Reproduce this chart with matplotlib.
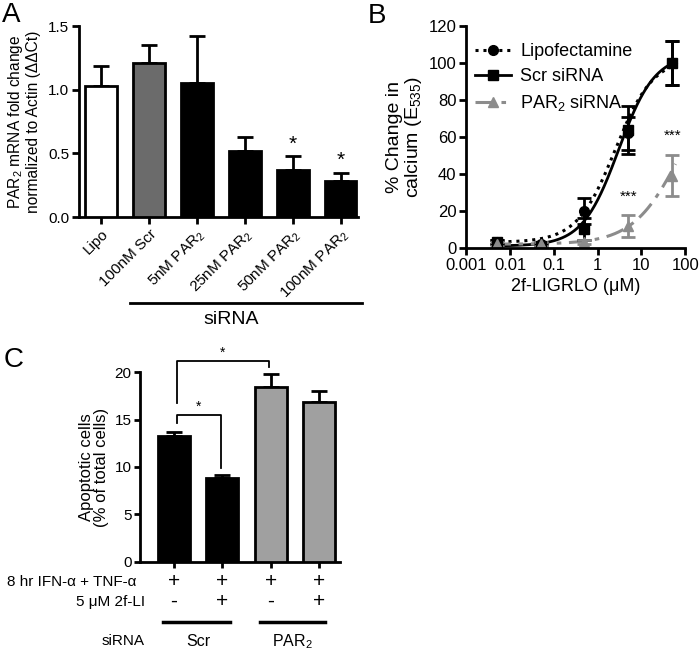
import matplotlib
matplotlib.use('Agg')
import matplotlib.pyplot as plt
import numpy as np

plt.rcParams['font.family'] = ['Liberation Sans', 'DejaVu Sans']
plt.rcParams['mathtext.fontset'] = 'custom'
plt.rcParams['mathtext.rm'] = 'Liberation Sans'
plt.rcParams['mathtext.it'] = 'Liberation Sans:italic'
plt.rcParams['axes.linewidth'] = 2

# panel A data
a_labels = ['Lipo', '100nM Scr', '5nM PAR$_2$', '25nM PAR$_2$', '50nM PAR$_2$', '100nM PAR$_2$']
a_vals = [1.03, 1.21, 1.05, 0.52, 0.37, 0.28]
a_err = [0.16, 0.14, 0.37, 0.11, 0.11, 0.07]
a_cols = ['white', '#6b6b6b', 'black', 'black', 'black', 'black']
a_star = [False, False, False, False, True, True]

# panel B data
b_x = [0.005, 0.05, 0.5, 5, 50]
lipo_y = [3, 2, 20, 62, 100]
lipo_e = [1, 1, 7, 9, 12]
scr_y = [3, 1, 10, 64, 100]
scr_e = [1, 1, 6, 13, 12]
par_y = [2, 2, 3, 12, 39]
par_e = [1, 1, 1, 6, 11]
# fitted curve params: bottom, top, ec50, hill
lipo_fit = [3, 103, 2.5, 1.0]
scr_fit = [1, 105, 3.0, 1.05]
par_fit = [2, 100, 80, 0.8]

# panel C data
c_vals = [13.3, 8.8, 18.4, 16.9]
c_err = [0.35, 0.3, 1.4, 1.1]
c_cols = ['black', 'black', '#a0a0a0', '#a0a0a0']
c_row1 = ['+', '+', '+', '+']
c_row2 = ['-', '+', '-', '+']

fig = plt.figure(figsize=(7, 6.54), dpi=100)

def style(ax):
    ax.spines['top'].set_visible(False)
    ax.spines['right'].set_visible(False)
    ax.tick_params(width=2, length=5, pad=2, labelsize=11)

# ---- A
axA = fig.add_axes([0.113, 0.668, 0.399, 0.292])
xa = np.arange(len(a_vals))
axA.bar(xa, a_vals, width=0.66, color=a_cols, edgecolor='black', linewidth=2, zorder=3)
axA.errorbar(xa, a_vals, yerr=[np.zeros(len(a_err)), a_err], fmt='none', ecolor='black',
             elinewidth=2, capsize=6, capthick=2, zorder=2)
for i in range(len(a_vals)):
    if a_star[i]:
        axA.text(xa[i], a_vals[i] + a_err[i] + 0.02, '*', ha='center', va='bottom', fontsize=15)
axA.set_xlim(-0.46, 5.37)
axA.set_ylim(0, 1.5)
axA.set_yticks([0, 0.5, 1.0, 1.5])
axA.set_yticklabels(['0.0', '0.5', '1.0', '1.5'])
axA.set_xticks(xa)
axA.set_xticklabels(a_labels, rotation=45, ha='right', rotation_mode='anchor', fontsize=12)
style(axA)
axA.set_ylabel('PAR$_2$ mRNA fold change\nnormalized to Actin (ΔΔCt)', fontsize=11.2, labelpad=5,
               linespacing=1.15)
fig.text(0.003, 0.997, 'A', fontsize=20, va='top', ha='left')
fig.add_artist(plt.Line2D([130/700, 362/700], [1-303/654, 1-303/654], color='black', lw=2))
fig.text(231/700, 1-320/654, 'siRNA', ha='center', va='center', fontsize=14)

# ---- B
axB = fig.add_axes([0.666, 0.621, 0.313, 0.339])
xs = np.logspace(np.log10(0.004), np.log10(60), 300)

def logistic(p, x):
    return p[0] + (p[1] - p[0]) / (1 + (p[2] / x) ** p[3])

axB.plot(xs, logistic(lipo_fit, xs), color='black', lw=2.2, ls=(0, (1, 1.6)))
axB.plot(xs, logistic(scr_fit, xs), color='black', lw=2)
axB.plot(xs, logistic(par_fit, xs), color='#8c8c8c', lw=2.2, ls=(0, (6, 2.5, 1.5, 2.5)))
axB.errorbar(b_x, lipo_y, yerr=lipo_e, fmt='o', color='black', ms=7, capsize=5, elinewidth=2, capthick=2)
axB.errorbar(b_x, scr_y, yerr=scr_e, fmt='s', color='black', ms=7, capsize=5, elinewidth=2, capthick=2)
axB.errorbar(b_x, par_y, yerr=par_e, fmt='^', color='#8c8c8c', ms=7, capsize=5, elinewidth=2, capthick=2)
axB.text(5, 24, '***', ha='center', va='bottom', fontsize=11)
axB.text(50, 57, '***', ha='center', va='bottom', fontsize=11)
axB.plot([], [], color='black', lw=2.2, ls=(0, (1, 1.6)), marker='o', ms=7, label='Lipofectamine')
axB.plot([], [], color='black', lw=2, marker='s', ms=7, label='Scr siRNA')
axB.plot([], [], color='#8c8c8c', lw=2.2, ls=(0, (6, 2.5, 1.5, 2.5)), marker='^', ms=7, label='PAR$_2$ siRNA')
axB.legend(loc='upper left', frameon=False, fontsize=13, handlelength=2.0, borderaxespad=0.1,
           handletextpad=0.5, labelspacing=0.45, bbox_to_anchor=(0.0, 0.965))
axB.set_xscale('log')
axB.set_xlim(0.001, 100)
axB.set_ylim(0, 120)
axB.set_yticks(range(0, 121, 20))
axB.set_xticks([0.001, 0.01, 0.1, 1, 10, 100])
axB.set_xticklabels(['0.001', '0.01', '0.1', '1', '10', '100'])
style(axB)
axB.tick_params(labelsize=12)
axB.tick_params(which='minor', width=2, length=4)
axB.set_xlabel('2f-LIGRLO (μM)', fontsize=13)
axB.set_ylabel('% Change in\ncalcium (E$_{535}$)', fontsize=14, labelpad=3, linespacing=1.0)
fig.text(0.525, 0.995, 'B', fontsize=20, va='top', ha='left')

# ---- C
axC = fig.add_axes([0.2, 0.141, 0.286, 0.290])
xc = np.arange(len(c_vals))
axC.bar(xc, c_vals, width=0.66, color=c_cols, edgecolor='black', linewidth=2, zorder=3)
axC.errorbar(xc, c_vals, yerr=[np.zeros(len(c_err)), c_err], fmt='none', ecolor='black',
             elinewidth=2, capsize=6, capthick=2, zorder=2)
axC.set_xlim(-0.7, 3.44)
axC.set_ylim(0, 20)
axC.set_yticks([0, 5, 10, 15, 20])
axC.set_xticks(xc)
axC.set_xticklabels([])
style(axC)
axC.tick_params(length=4)
axC.set_ylabel('Apoptotic cells\n(% of total cells)', fontsize=12, labelpad=4, linespacing=1.0)
# brackets
axC.plot([0.06, 0.06, 1.96, 1.96], [16.7, 21.2, 21.2, 20.5], color='black', lw=1.3, clip_on=False)
axC.text(1.0, 21.3, '*', ha='center', va='bottom', fontsize=10)
axC.plot([0.06, 0.06, 0.97, 0.97], [14.6, 15.5, 15.5, 9.9], color='black', lw=1.3, clip_on=False)
axC.text(0.5, 15.6, '*', ha='center', va='bottom', fontsize=10)
# treatment rows
tr = axC.get_xaxis_transform()
axC.text(-0.77, -0.105, '8 hr IFN-α + TNF-α', transform=tr, ha='right', va='center', fontsize=11)
axC.text(-0.6, -0.21, '5 μM 2f-LI', transform=tr, ha='right', va='center', fontsize=11)
axC.text(-0.6, -0.42, 'siRNA', transform=tr, ha='right', va='center', fontsize=11)
for i in range(len(c_vals)):
    axC.text(xc[i], -0.105, c_row1[i], transform=tr, ha='center', va='center', fontsize=15)
    axC.text(xc[i], -0.21, c_row2[i], transform=tr, ha='center', va='center', fontsize=15)
axC.plot([-0.23, 1.16], [-0.32, -0.32], transform=tr, color='black', lw=2.5, clip_on=False)
axC.plot([1.78, 3.13], [-0.32, -0.32], transform=tr, color='black', lw=2.5, clip_on=False)
axC.text(0.5, -0.42, 'Scr', transform=tr, ha='center', va='center', fontsize=11.5)
axC.text(2.45, -0.42, 'PAR$_2$', transform=tr, ha='center', va='center', fontsize=11.5)
fig.text(0.005, 0.47, 'C', fontsize=20, va='top', ha='left')

fig.savefig('out.png', dpi=100)
